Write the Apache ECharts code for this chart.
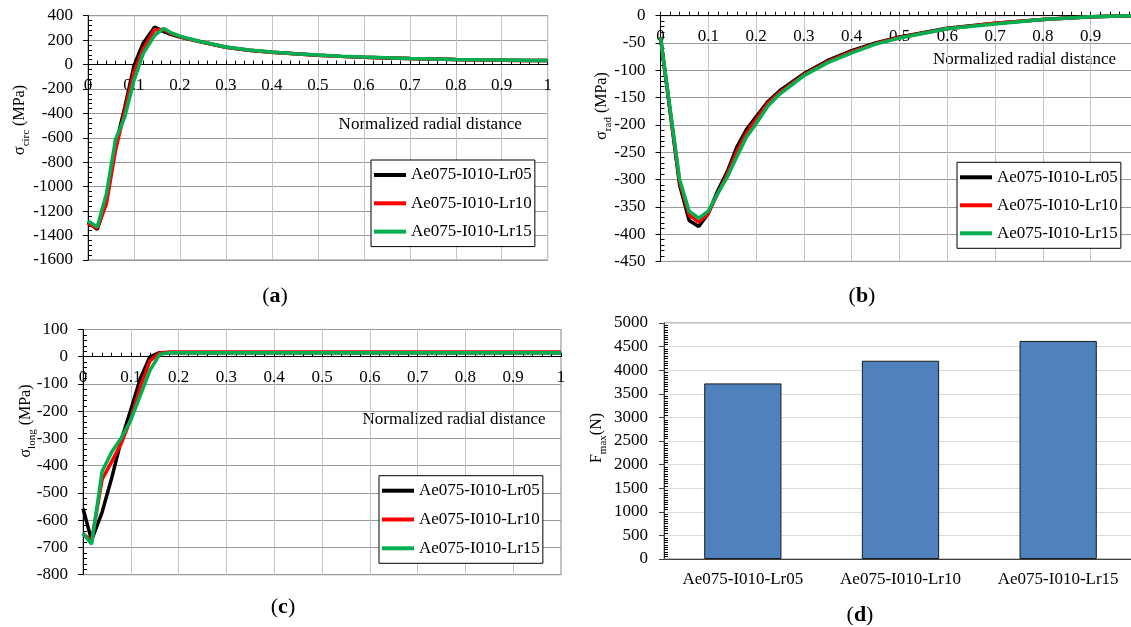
<!DOCTYPE html>
<html>
<head>
<meta charset="utf-8">
<script src="https://cdn.jsdelivr.net/npm/echarts@6/dist/echarts.min.js"></script>
<style>
  html, body { margin: 0; padding: 0; background: #fff; }
  #chart { width: 1131px; height: 627px; }
</style>
</head>
<body>
<div id="chart"></div>
<script>
// Series names
const seriesNames = ["Ae075-I010-Lr05", "Ae075-I010-Lr10", "Ae075-I010-Lr15"];
const seriesColors = ["#000000", "#ff0000", "#00b050"];

// (a) circumferential stress
const radialA = [0, 0.02, 0.04, 0.06, 0.08, 0.1, 0.12, 0.145, 0.165, 0.18, 0.2, 0.25, 0.3, 0.35, 0.4, 0.45, 0.5, 0.55, 0.6, 0.65, 0.7, 0.75, 0.8, 0.85, 0.9, 0.95, 1];
const circLr05 = [-1290, -1350, -1120, -660, -350, -10, 175, 308, 270, 248, 225, 182, 142, 118, 101, 88, 77, 67, 60, 54, 49, 45, 41, 38, 36, 34, 33];
const circLr10 = [-1300, -1340, -1140, -700, -380, -60, 130, 285, 288, 255, 228, 182, 142, 118, 101, 88, 77, 67, 60, 54, 49, 45, 41, 38, 36, 34, 33];
const circLr15 = [-1280, -1330, -1060, -610, -430, -130, 90, 240, 296, 262, 232, 184, 144, 119, 102, 89, 78, 68, 61, 55, 50, 46, 42, 39, 37, 35, 34];

// (b) radial stress
const radialB = [0, 0.04, 0.06, 0.08, 0.1, 0.12, 0.14, 0.16, 0.18, 0.2, 0.225, 0.25, 0.3, 0.35, 0.4, 0.45, 0.5, 0.6, 0.7, 0.8, 0.9, 1];
const radLr05 = [-40, -310, -375, -386, -362, -320, -285, -240, -208, -185, -157, -137, -106, -82, -64, -50, -39, -23, -14, -7, -2, 0];
const radLr10 = [-40, -305, -365, -378, -362, -325, -290, -248, -215, -190, -160, -140, -108, -84, -66, -51, -40, -24, -14, -7, -2, 0];
const radLr15 = [-40, -300, -358, -371, -358, -325, -295, -258, -222, -198, -165, -143, -110, -86, -68, -52, -41, -24, -15, -7, -2, 0];

// (c) longitudinal stress
const radialC = [0, 0.018, 0.04, 0.06, 0.08, 0.1, 0.12, 0.14, 0.16, 0.18, 0.2, 0.3, 0.4, 0.5, 0.6, 0.7, 0.8, 0.9, 1];
const longLr05 = [-557, -673, -570, -445, -306, -195, -80, 0, 15, 15, 15, 15, 15, 15, 15, 15, 15, 15, 15];
const longLr10 = [-650, -675, -450, -385, -318, -228, -110, -15, 14, 17, 17, 17, 17, 17, 17, 17, 17, 17, 17];
const longLr15 = [-648, -688, -420, -350, -298, -232, -142, -50, 8, 15, 15, 15, 15, 15, 15, 15, 15, 15, 15];

// (d) maximum force
const forceCategories = ["Ae075-I010-Lr05", "Ae075-I010-Lr10", "Ae075-I010-Lr15"];
const forceMax = [3720, 4200, 4620];

// stress axis ranges [min, max, step]
const rangeA = [-1600, 400, 200];
const rangeB = [-450, 0, 50];
const rangeC = [-800, 100, 100];

const FONT = '"Liberation Serif", "Times New Roman", serif';

const grids = [
  { left: 88, top: 15.7, width: 459.7, height: 244.3 },
  { left: 660.5, top: 15.7, width: 478, height: 245.7 },
  { left: 83, top: 329.5, width: 478, height: 245.2 },
  { left: 664, top: 323, width: 473, height: 236 },
];

function pairs(xs, ys) {
  return xs.map(function (x, i) { return [x, ys[i]]; });
}

// x axis drawn on the zero line of the stress axis, labels below it
function radialAxis(g, range) {
  const up = grids[g].height * (0 - range[0]) / (range[1] - range[0]);
  return {
    type: "value", gridIndex: g, min: 0, max: 1, interval: 0.1,
    position: "bottom", offset: -up,
    axisLine: { onZero: false, lineStyle: { color: "#000", width: 1 } },
    axisTick: { show: true, inside: true, length: 4, lineStyle: { color: "#000" } },
    minorTick: { show: true, splitNumber: 5, length: 4, lineStyle: { color: "#000" } },
    axisLabel: { color: "#000", fontFamily: FONT, fontSize: 17, margin: 12 },
    splitLine: { show: true, lineStyle: { color: "#c4c4c4" } },
  };
}

function stressAxis(g, range) {
  return {
    type: "value", gridIndex: g, min: range[0], max: range[1], interval: range[2],
    axisLine: { show: true, onZero: false, lineStyle: { color: "#000" } },
    axisTick: { show: true, length: 5, lineStyle: { color: "#000" } },
    axisLabel: { color: "#000", fontFamily: FONT, fontSize: 17, margin: 15, formatter: function (v) { return String(v); } },
    splitLine: { show: true, lineStyle: { color: "#9a9a9a" } },
  };
}

// second axis only for the inward minor ticks
function minorAxis(g, min, max, step, n) {
  return {
    type: "value", gridIndex: g, position: "left", min: min, max: max, interval: step,
    axisLine: { show: false, onZero: false },
    axisTick: { show: false, inside: true },
    minorTick: { show: true, splitNumber: n, length: 4, lineStyle: { color: "#000" } },
    axisLabel: { show: false },
    splitLine: { show: false },
  };
}

function lineSeries(xi, yi, xs, ys, k) {
  return {
    name: seriesNames[k], type: "line", xAxisIndex: xi, yAxisIndex: yi,
    data: pairs(xs, ys), symbol: "none", smooth: false,
    lineStyle: { color: seriesColors[k], width: 3.5 },
    itemStyle: { color: seriesColors[k] },
  };
}

function legendAt(left, top, gap) {
  return {
    orient: "vertical", left: left, top: top, itemGap: gap,
    itemWidth: 32, itemHeight: 4, icon: "rect",
    padding: [5, 3, 5, 3], borderColor: "#000", borderWidth: 1,
    backgroundColor: "#fff", selectedMode: false,
    textStyle: { fontFamily: FONT, fontSize: 17, color: "#000", lineHeight: 20 },
    data: seriesNames,
  };
}

const richTitle = {
  s: { fontFamily: FONT, fontSize: 16, lineHeight: 24, verticalAlign: "middle", fill: "#000" },
  sub: { fontFamily: FONT, fontSize: 11, lineHeight: 24, verticalAlign: "bottom", fill: "#000" },
};

function yTitle(x, y, sym, sub, unit) {
  return {
    type: "text", x: x, y: y, rotation: Math.PI / 2,
    style: {
      text: "{s|" + sym + "}{sub|" + sub + "}{s|" + unit + "}",
      rich: richTitle, fill: "#000",
      align: "center", verticalAlign: "middle",
    },
  };
}

function plainText(x, y, text) {
  return {
    type: "text", x: x, y: y,
    style: {
      text: text, font: "17px " + FONT, fill: "#000",
      align: "left", verticalAlign: "middle",
    },
  };
}

function panelLabel(x, y, letter) {
  return {
    type: "text", x: x, y: y,
    style: {
      text: "{p|(}{b|" + letter + "}{p|)}",
      rich: {
        p: { fontFamily: FONT, fontSize: 22, fill: "#000" },
        b: { fontFamily: FONT, fontSize: 22, fontWeight: "bold", fill: "#000" },
      },
      fill: "#000",
      align: "center", verticalAlign: "middle",
    },
  };
}

const chart = echarts.init(document.getElementById("chart"));

const option = {
  animation: false,
  backgroundColor: "#fff",
  grid: grids.map(function (g) {
    return Object.assign({
      show: true, borderColor: "#808080", borderWidth: 1,
      backgroundColor: "transparent", containLabel: false, outerBoundsMode: "none",
    }, g);
  }),
  xAxis: [
    radialAxis(0, rangeA),
    radialAxis(1, rangeB),
    radialAxis(2, rangeC),
    {
      type: "category", gridIndex: 3, data: forceCategories,
      axisLine: { lineStyle: { color: "#404040" } },
      axisTick: { show: false },
      axisLabel: { color: "#000", fontFamily: FONT, fontSize: 17, margin: 12, interval: 0 },
      splitLine: { show: false },
    },
  ],
  yAxis: [
    stressAxis(0, rangeA),
    minorAxis(0, rangeA[0], rangeA[1], rangeA[2], 5),
    stressAxis(1, rangeB),
    minorAxis(1, rangeB[0], rangeB[1], rangeB[2], 5),
    stressAxis(2, rangeC),
    minorAxis(2, rangeC[0], rangeC[1], rangeC[2], 5),
    {
      type: "value", gridIndex: 3, min: 0, max: 5000, interval: 500,
      axisLine: { show: true, lineStyle: { color: "#404040" } },
      axisTick: { show: true, length: 5, lineStyle: { color: "#404040" } },
      axisLabel: { color: "#000", fontFamily: FONT, fontSize: 17, margin: 16, formatter: function (v) { return String(v); } },
      splitLine: { show: true, lineStyle: { color: "#d9d9d9" } },
    },
    minorAxis(3, 0, 5000, 500, 10),
  ],
  legend: [
    legendAt(371, 160, 8.3),
    legendAt(957, 162.3, 8),
    legendAt(379, 475.7, 8.8),
  ],
  series: [
    lineSeries(0, 0, radialA, circLr05, 0),
    lineSeries(0, 0, radialA, circLr10, 1),
    lineSeries(0, 0, radialA, circLr15, 2),
    lineSeries(1, 2, radialB, radLr05, 0),
    lineSeries(1, 2, radialB, radLr10, 1),
    lineSeries(1, 2, radialB, radLr15, 2),
    lineSeries(2, 4, radialC, longLr05, 0),
    lineSeries(2, 4, radialC, longLr10, 1),
    lineSeries(2, 4, radialC, longLr15, 2),
    {
      name: "Fmax", type: "bar", xAxisIndex: 3, yAxisIndex: 6,
      data: forceMax, barCategoryGap: "51%",
      itemStyle: { color: "#4f81bd", borderColor: "#1a1a1a", borderWidth: 1 },
    },
  ],
  graphic: [
    yTitle(20, 120, "σ", "circ", " (MPa)"),
    yTitle(602, 106, "σ", "rad", " (MPa)"),
    yTitle(25.5, 421, "σ", "long", " (MPa)"),
    yTitle(597, 438, "F", "max", "(N)"),
    plainText(338.6, 125, "Normalized radial distance"),
    plainText(933, 59.3, "Normalized radial distance"),
    plainText(362.5, 419.3, "Normalized radial distance"),
    panelLabel(275, 296, "a"),
    panelLabel(862, 296, "b"),
    panelLabel(283, 607, "c"),
    panelLabel(860, 615, "d"),
  ],
};

chart.setOption(option);
window.addEventListener("resize", function () {
  chart.resize();
});
</script>
</body>
</html>
